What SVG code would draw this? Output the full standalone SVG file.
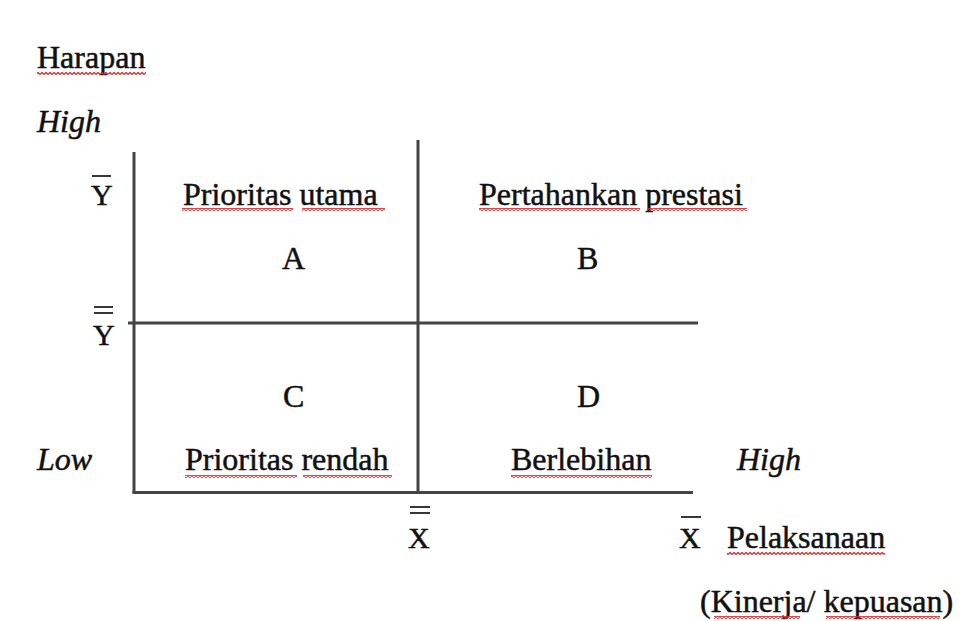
<svg xmlns="http://www.w3.org/2000/svg" width="960" height="621" viewBox="0 0 960 621">
<style>
.t{font-family:"Liberation Serif","Times New Roman",Times,"DejaVu Serif",serif;font-size:32px;fill:#111;stroke:#111;stroke-width:0.5}
.i{font-style:italic}
.s{font-size:30px}
.ax{stroke:#444;stroke-width:3;fill:none}
.bar{stroke:#222;stroke-width:1.8}
.sq{fill:url(#squig)}
</style>
<defs>
<pattern id="squig" patternUnits="userSpaceOnUse" width="4" height="3">
<path d="M0,2.5 L2,0.5 L4,2.5" stroke="#e02828" stroke-width="1.3" fill="none"/>
</pattern>
</defs>
<rect width="960" height="621" fill="#fff"/>
<g id="connectors">
<line class="ax" x1="134" y1="152" x2="134" y2="493"/>
<line class="ax" x1="418" y1="140" x2="418" y2="493"/>
<line class="ax" x1="128" y1="323" x2="698" y2="323"/>
<line class="ax" x1="132.5" y1="492.5" x2="693" y2="492.5"/>
</g>
<g id="axis-labels">
<text class="t" x="37" y="68">Harapan</text>
<rect class="sq" x="37" y="72" width="109" height="3"/>
<text class="t i" x="37" y="132">High</text>
<text class="t i" x="37" y="470">Low</text>
<text class="t i" x="737" y="470">High</text>
<text class="t" x="727" y="548">Pelaksanaan</text>
<rect class="sq" x="727" y="552" width="158" height="3"/>
<text class="t" x="700" y="612">(Kinerja/ kepuasan)</text>
<rect class="sq" x="714" y="616" width="86" height="3"/>
<rect class="sq" x="826" y="616" width="114" height="3"/>
</g>
<g id="ybar">
<text class="t s" x="91" y="205">Y</text>
<line class="bar" x1="92" y1="176" x2="111" y2="176"/>
</g>
<g id="ydoublebar">
<text class="t s" x="93" y="345">Y</text>
<line class="bar" x1="94" y1="307" x2="113" y2="307"/>
<line class="bar" x1="94" y1="313" x2="113" y2="313"/>
</g>
<g id="xdoublebar">
<text class="t s" x="408" y="548">X</text>
<line class="bar" x1="410" y1="507" x2="430" y2="507"/>
<line class="bar" x1="410" y1="513" x2="430" y2="513"/>
</g>
<g id="xbar">
<text class="t s" x="679" y="548">X</text>
<line class="bar" x1="681" y1="517" x2="701" y2="517"/>
</g>
<g id="quadrant-A">
<text class="t" x="183" y="205">Prioritas utama</text>
<rect class="sq" x="182" y="208" width="111" height="3"/>
<rect class="sq" x="302" y="208" width="83" height="3"/>
<text class="t" x="282" y="269">A</text>
</g>
<g id="quadrant-B">
<text class="t" x="479" y="205">Pertahankan prestasi</text>
<rect class="sq" x="479" y="208" width="161" height="3"/>
<rect class="sq" x="647" y="208" width="100" height="3"/>
<text class="t" x="577" y="269">B</text>
</g>
<g id="quadrant-C">
<text class="t" x="283" y="407">C</text>
<text class="t" x="185" y="470">Prioritas rendah</text>
<rect class="sq" x="185" y="475" width="112" height="3"/>
<rect class="sq" x="303" y="475" width="89" height="3"/>
</g>
<g id="quadrant-D">
<text class="t" x="577" y="407">D</text>
<text class="t" x="511" y="470">Berlebihan</text>
<rect class="sq" x="511" y="475" width="141" height="3"/>
</g>
</svg>
